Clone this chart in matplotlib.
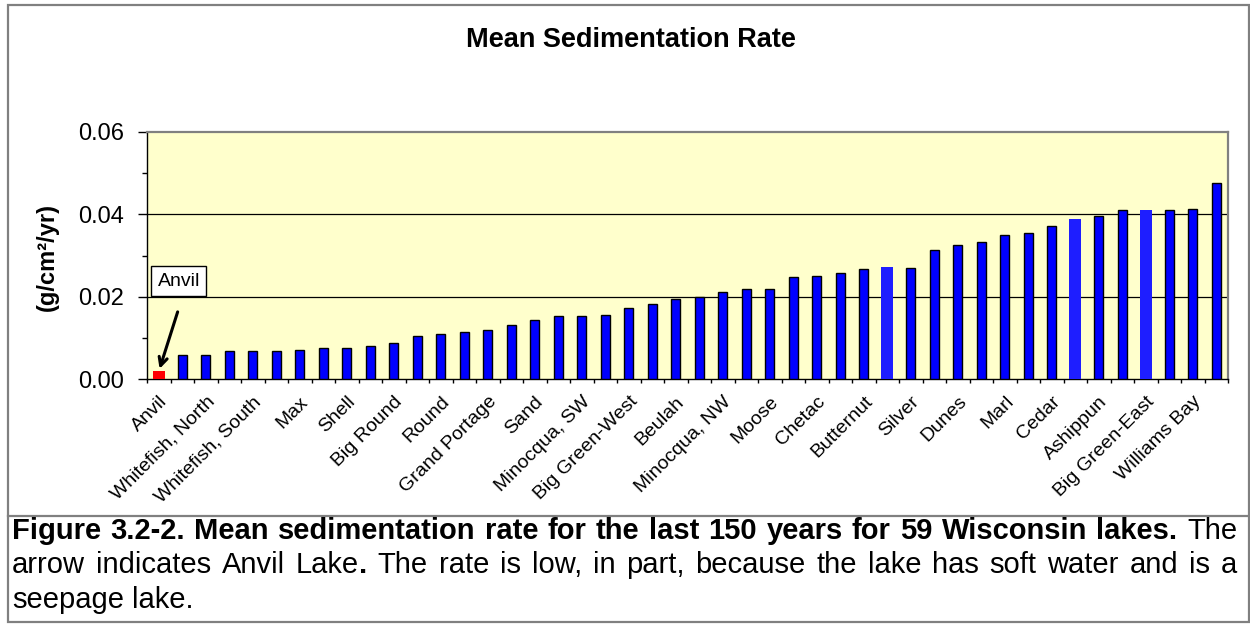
import numpy as np
import matplotlib.pyplot as plt
from matplotlib.patches import Rectangle
from matplotlib.lines import Line2D

plt.rcParams['font.family'] = ['Liberation Sans', 'DejaVu Sans']

# Data ###############################################################################################################
rates = [0.0019, 0.0060, 0.0060, 0.0068, 0.0068, 0.0068, 0.0072, 0.0076, 0.0076, 0.0081,
         0.0089, 0.0106, 0.0110, 0.0114, 0.0119, 0.0131, 0.0145, 0.0154, 0.0154, 0.0157,
         0.0174, 0.0182, 0.0194, 0.0199, 0.0212, 0.0220, 0.0220, 0.0247, 0.0251, 0.0258,
         0.0268, 0.0272, 0.0271, 0.0313, 0.0326, 0.0334, 0.0351, 0.0355, 0.0372, 0.0390,
         0.0397, 0.0410, 0.0410, 0.0410, 0.0414, 0.0476]

# only every other lake is labelled on the axis
lake_labels = ['Anvil', 'Whitefish, North', 'Whitefish, South', 'Max', 'Shell', 'Big Round', 'Round',
               'Grand Portage', 'Sand', 'Minocqua, SW', 'Big Green-West', 'Beulah', 'Minocqua, NW',
               'Moose', 'Chetac', 'Butternut', 'Silver', 'Dunes', 'Marl', 'Cedar', 'Ashippun',
               'Big Green-East', 'Williams Bay']

anvil_idx = 0
light_idx = [31, 39, 42]

y_ticks = [0.00, 0.02, 0.04, 0.06]
y_minor = [0.01, 0.03, 0.05]

title = 'Mean Sedimentation Rate'
y_label = '(g/cm\u00b2/yr)'

caption_lines = [
    [('Figure 3.2-2. Mean sedimentation rate for the last 150 years for 59 Wisconsin lakes.', 'bold'),
     (' The', 'normal')],
    [('arrow indicates Anvil Lake', 'normal'), ('.', 'bold'),
     (' The rate is low, in part, because the lake has soft water and is a', 'normal')],
    [('seepage lake.', 'normal')],
]

# Figure #############################################################################################################
W, H = 1250, 624
fig = plt.figure(figsize=(W / 100, H / 100), dpi=100)


def fx(px):
    return px / W


def fy(py):
    return 1 - py / H


# outer frame and caption separator
fig.patches.append(Rectangle((fx(8), fy(622)), fx(1249) - fx(8), fy(5) - fy(622), transform=fig.transFigure,
                             fill=False, edgecolor='#808080', linewidth=1.6))
fig.lines.append(Line2D([fx(8), fx(1249)], [fy(516), fy(516)], transform=fig.transFigure,
                        color='#808080', linewidth=1.6))

ax = fig.add_axes([fx(147), fy(379.3), fx(1228) - fx(147), fy(132) - fy(379.3)])
ax.set_facecolor('#ffffcc')

x = np.arange(len(rates))
vals = np.array(rates)
normal = [i for i in x if i != anvil_idx and i not in light_idx]
ax.bar(x[normal], vals[normal], width=0.4, color='#0000ff', edgecolor='black', linewidth=1.0, zorder=3)
ax.bar(light_idx, vals[light_idx], width=0.5, color='#1e1eff', linewidth=0, zorder=3)
ax.bar(anvil_idx, vals[anvil_idx], width=0.5, color='#ff0000', linewidth=0, zorder=3)

ax.set_xlim(-0.5, len(rates) - 0.5)
ax.set_ylim(y_ticks[0], y_ticks[-1])

for v in y_ticks[1:-1]:
    ax.axhline(v, color='black', linewidth=0.9, zorder=1)

ax.set_yticks(y_ticks)
ax.set_yticklabels([f'{v:.2f}' for v in y_ticks])
ax.set_yticks(y_minor, minor=True)
ax.tick_params(axis='y', which='major', direction='out', length=6.5, width=1, labelsize=17, pad=10)
ax.tick_params(axis='y', which='minor', direction='out', length=3.6, width=1)

ax.set_xticks(x[::2])
ax.set_xticklabels(lake_labels, rotation=45, ha='right', va='top', rotation_mode='anchor')
ax.set_xticks(np.arange(-0.5, len(rates)), minor=True)
ax.tick_params(axis='x', which='major', length=0, labelsize=14, pad=10)
ax.tick_params(axis='x', which='minor', direction='out', length=3, width=1)

for s in ['top', 'right']:
    ax.spines[s].set_color('#808080')
    ax.spines[s].set_linewidth(1.6)
for s in ['left', 'bottom']:
    ax.spines[s].set_color('black')
    ax.spines[s].set_linewidth(1.0)

# Anvil call-out
ax.text(0.85, 0.0238, 'Anvil', fontsize=14, ha='center', va='center', zorder=5,
        bbox=dict(boxstyle='square,pad=0.33', facecolor='white', edgecolor='black', linewidth=1))
ax.annotate('', xy=(anvil_idx, vals[anvil_idx]), xytext=(0.84, 0.017), zorder=5,
            arrowprops=dict(arrowstyle='->,head_length=0.6,head_width=0.3', color='black', lw=2.2))

fig.text(fx(631), fy(47), title, fontsize=19.5, fontweight='bold', ha='center', va='baseline')
fig.text(fx(47), fy(257), y_label, fontsize=17, fontweight='bold', rotation=90, ha='center', va='center')

# Caption (justified) ################################################################################################
cap_size = 21
renderer = fig.canvas.get_renderer()


def text_width(s, weight):
    t = fig.text(0, 0, s, fontsize=cap_size, fontweight=weight)
    w = t.get_window_extent(renderer).width
    t.remove()
    return w


space_w = text_width('n n', 'normal') - text_width('nn', 'normal')
x_left, x_right = 12, 1237
baselines = [539, 573, 608]

for n, line in enumerate(caption_lines):
    tokens = []
    for seg, wt in line:
        for k, p in enumerate(seg.split(' ')):
            if p == '':
                continue
            tokens.append([p, wt, k > 0 and len(tokens) > 0])
    widths = [text_width(t[0], t[1]) for t in tokens]
    gaps = sum(1 for t in tokens if t[2])
    justify = n < len(caption_lines) - 1
    gap = (x_right - x_left - sum(widths)) / gaps if justify and gaps else space_w
    pos = x_left
    for (word, wt, sp), w in zip(tokens, widths):
        if sp:
            pos += gap
        fig.text(fx(pos), fy(baselines[n]), word, fontsize=cap_size, fontweight=wt, ha='left', va='baseline')
        pos += w

fig.savefig('out.png', dpi=100)
